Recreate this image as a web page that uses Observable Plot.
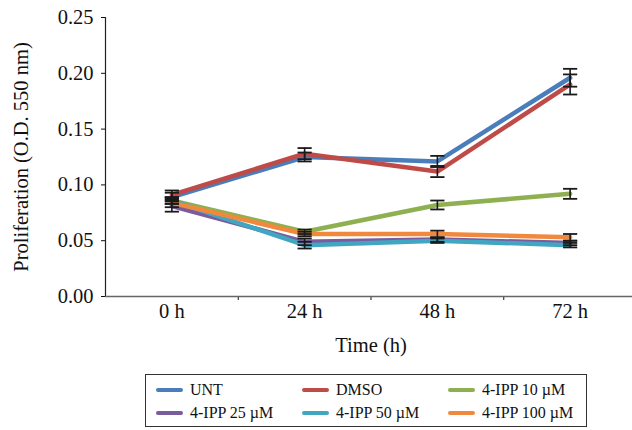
<!DOCTYPE html>
<html>
<head>
<meta charset="utf-8">
<script src="https://cdn.jsdelivr.net/npm/d3@7"></script>
<script src="https://cdn.jsdelivr.net/npm/@observablehq/plot@0.6"></script>
<style>
  html, body { margin: 0; padding: 0; background: #fff; }
  #wrap { position: relative; width: 632px; height: 430px; font-family: "Liberation Serif", "Times New Roman", serif; }
  #legend { position: absolute; left: 145px; top: 374px; width: 442px; height: 53px; border: 1px solid #333; box-sizing: border-box; }
  .item { position: absolute; font-size: 16px; color: #111; display: flex; align-items: center; white-space: nowrap; }
  .sw { display: inline-block; width: 27px; height: 4px; border-radius: 2px; margin-right: 7px; }
  svg text { font-weight: normal; }
</style>
</head>
<body>
<div id="wrap">
  <div id="chart"></div>
  <div id="legend"></div>
</div>
<script>
// ---- data ----
const times = ["0 h", "24 h", "48 h", "72 h"];
const seriesNames = ["UNT", "DMSO", "4-IPP 10 µM", "4-IPP 25 µM", "4-IPP 50 µM", "4-IPP 100 µM"];
const seriesColors = ["#4a7ebb", "#be4b48", "#8fb050", "#7a5c9e", "#41a6c1", "#f0893e"];

const untValues    = [0.089, 0.125, 0.121, 0.196];
const dmsoValues   = [0.091, 0.128, 0.112, 0.190];
const ipp10Values  = [0.086, 0.058, 0.082, 0.092];
const ipp25Values  = [0.081, 0.049, 0.051, 0.048];
const ipp50Values  = [0.086, 0.046, 0.050, 0.046];
const ipp100Values = [0.084, 0.056, 0.056, 0.053];

const untErr    = [0.004, 0.004, 0.005, 0.008];
const dmsoErr   = [0.004, 0.005, 0.005, 0.009];
const ipp10Err  = [0.003, 0.002, 0.004, 0.0045];
const ipp25Err  = [0.005, 0.003, 0.002, 0.002];
const ipp50Err  = [0.003, 0.003, 0.002, 0.002];
const ipp100Err = [0.004, 0.002, 0.003, 0.003];

const yTicks = [0, 0.05, 0.10, 0.15, 0.20, 0.25];

// ---- build table ----
const allValues = [untValues, dmsoValues, ipp10Values, ipp25Values, ipp50Values, ipp100Values];
const allErr = [untErr, dmsoErr, ipp10Err, ipp25Err, ipp50Err, ipp100Err];
const rows = [];
seriesNames.forEach((s, k) => {
  times.forEach((t, i) => {
    const v = allValues[k][i], e = allErr[k][i];
    rows.push({s, i, v, lo: v - e, hi: v + e});
  });
});

const capSymbol = {
  draw(context, size) {
    const w = Math.sqrt(size);
    context.moveTo(-w, 0);
    context.lineTo(w, 0);
  }
};

const chart = Plot.plot({
  width: 632,
  height: 364,
  marginLeft: 105,
  marginRight: -4,
  marginTop: 17,
  marginBottom: 68,
  style: { fontFamily: "Liberation Serif, Times New Roman, serif", fontSize: "20px", color: "#111", background: "#fff" },
  x: { domain: [-0.5, times.length - 0.5] },
  y: { domain: [0, 0.25] },
  color: { domain: seriesNames, range: seriesColors },
  marks: [
    Plot.axisY({ ticks: yTicks, tickFormat: d3.format(".2f"), tickSize: 4, tickPadding: 8,
      label: "Proliferation (O.D. 550 nm)", labelAnchor: "center", labelArrow: "none", labelOffset: 92, fontSize: 20.5 }),
    Plot.axisX({ ticks: d3.range(times.length), tickFormat: i => times[i], tickSize: 0, tickPadding: 7,
      label: "Time (h)", labelAnchor: "center", labelArrow: "none", labelOffset: 55, fontSize: 20.5 }),
    Plot.axisX({ ticks: d3.range(times.length - 1).map(i => i + 0.5), tickFormat: () => "", tickSize: 4, label: null }),
    Plot.ruleX([-0.5], { stroke: "#222", strokeWidth: 1.2 }),
    Plot.ruleY([0], { stroke: "#666", strokeWidth: 1.5 }),
    Plot.line(rows, { x: "i", y: "v", z: "s", stroke: "s", strokeWidth: 4.5 }),
    Plot.ruleX(rows, { x: "i", y1: "lo", y2: "hi", stroke: "#1a1a1a", strokeWidth: 1.6 }),
    Plot.dot(rows, { x: "i", y: "lo", symbol: capSymbol, r: 4, stroke: "#1a1a1a", strokeWidth: 1.8 }),
    Plot.dot(rows, { x: "i", y: "hi", symbol: capSymbol, r: 4, stroke: "#1a1a1a", strokeWidth: 1.8 })
  ]
});
document.getElementById("chart").appendChild(chart);

// ---- legend ----
const legend = document.getElementById("legend");
const colX = [10, 156, 302];
const rowY = [6, 29];
seriesNames.forEach((s, k) => {
  const d = document.createElement("div");
  d.className = "item";
  d.style.left = colX[k % 3] + "px";
  d.style.top = rowY[Math.floor(k / 3)] + "px";
  d.innerHTML = `<span class="sw" style="background:${seriesColors[k]}"></span><span>${s}</span>`;
  legend.appendChild(d);
});
</script>
</body>
</html>
